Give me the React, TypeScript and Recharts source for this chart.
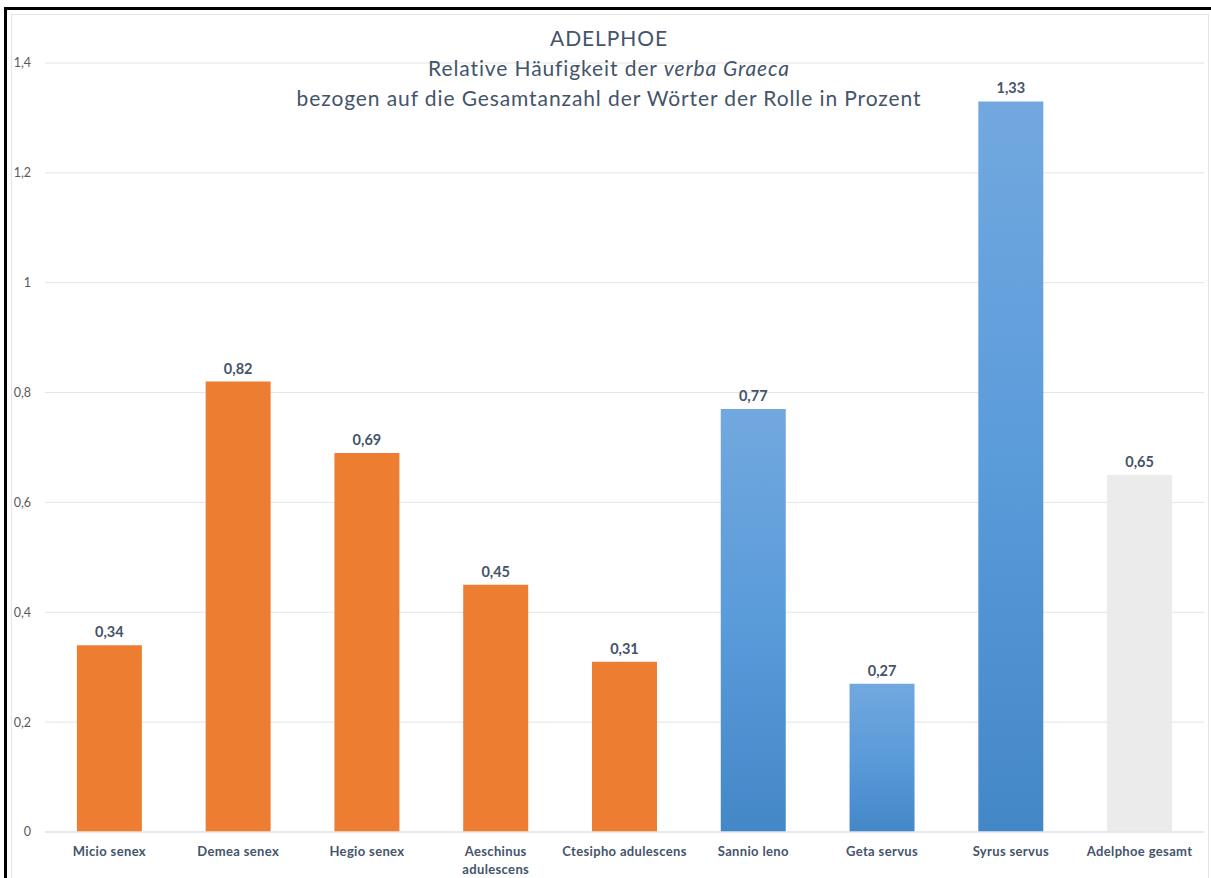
import React from 'react';
import { BarChart, Bar, XAxis, YAxis, CartesianGrid, Cell, LabelList } from 'recharts';

// Rollen (Kategorien) und Werte in Prozent
const categories = [
  'Micio senex',
  'Demea senex',
  'Hegio senex',
  'Aeschinus\nadulescens',
  'Ctesipho adulescens',
  'Sannio leno',
  'Geta servus',
  'Syrus servus',
  'Adelphoe gesamt',
];
const values = [0.34, 0.82, 0.69, 0.45, 0.31, 0.77, 0.27, 1.33, 0.65];
const groups = ['senex', 'senex', 'senex', 'senex', 'senex', 'servus', 'servus', 'servus', 'gesamt'];
const yTicks = [0, 0.2, 0.4, 0.6, 0.8, 1, 1.2, 1.4];

const FILLS: Record<string, string> = {
  senex: '#ED7D31',
  servus: 'url(#blueGrad)',
  gesamt: '#EBEBEB',
};

const FONT = 'Lato, "Open Sans", sans-serif';
const TEXT = '#44546A';

const data = categories.map((name, i) => ({ name, value: values[i], group: groups[i] }));

const comma = (v: number, digits?: number) =>
  (digits === undefined ? String(v) : v.toFixed(digits)).replace('.', ',');

const XTick = ({ x, y, payload }: any) => {
  const lines = String(payload.value).split('\n');
  return (
    <text
      x={x}
      y={y}
      textAnchor="middle"
      fill={TEXT}
      fontSize={13}
      fontWeight={700}
      fontFamily={FONT}
      letterSpacing={0.35}
    >
      {lines.map((l, i) => (
        <tspan key={i} x={x} dy={i === 0 ? '1.25em' : '1.35em'}>
          {l}
        </tspan>
      ))}
    </text>
  );
};

const ValueLabel = ({ x, y, width, value }: any) => (
  <text
    x={x + width / 2}
    y={y - 8}
    textAnchor="middle"
    fill={TEXT}
    fontSize={14.5}
    fontWeight={700}
    fontFamily={FONT}
  >
    {comma(value, 2)}
  </text>
);

export default function App() {
  return (
    <div
      style={{
        position: 'absolute',
        left: 0,
        top: 0,
        width: 1211,
        height: 878,
        overflow: 'hidden',
        background: '#fff',
      }}
    >
      <div
        style={{
          position: 'absolute',
          left: 4,
          top: 7,
          width: 1260,
          height: 920,
          border: '3px solid #000',
        }}
      />
      <div
        style={{
          position: 'absolute',
          left: 11,
          top: 14,
          width: 1196,
          height: 920,
          border: '1px solid #E4E6EA',
        }}
      />
      <div style={{ position: 'absolute', left: 0, top: 0 }}>
        <BarChart
          width={1211}
          height={878}
          data={data}
          margin={{ top: 63, right: 7, bottom: 6, left: 0 }}
          barCategoryGap="24.75%"
        >
          <defs>
            <linearGradient id="blueGrad" x1="0" y1="0" x2="0" y2="1">
              <stop offset="0%" stopColor="#72A8DF" />
              <stop offset="50%" stopColor="#5A9BDA" />
              <stop offset="100%" stopColor="#4487C7" />
            </linearGradient>
          </defs>
          <CartesianGrid vertical={false} stroke="#E4E4E4" strokeWidth={1} />
          <XAxis
            dataKey="name"
            interval={0}
            height={40}
            tickLine={false}
            axisLine={{ stroke: '#E4E6EA', strokeWidth: 1.5 }}
            tick={<XTick />}
          />
          <YAxis
            width={45}
            domain={[0, 1.4]}
            ticks={yTicks}
            axisLine={false}
            tickLine={false}
            tickMargin={8}
            tickFormatter={(v: number) => comma(v)}
            tick={{ fill: '#595959', fontSize: 12.5, fontFamily: FONT }}
          />
          <Bar dataKey="value" isAnimationActive={false}>
            {data.map((d, i) => (
              <Cell key={`cell-${i}`} fill={FILLS[d.group]} />
            ))}
            <LabelList dataKey="value" content={<ValueLabel />} />
          </Bar>
        </BarChart>
      </div>
      <div
        style={{
          position: 'absolute',
          left: 0,
          top: 23,
          width: 1218,
          textAlign: 'center',
          fontFamily: FONT,
          fontSize: 21,
          letterSpacing: 0.9,
          lineHeight: '30px',
          color: TEXT,
        }}
      >
        <div>ADELPHOE</div>
        <div>
          Relative Häufigkeit der <i>verba Graeca</i>
        </div>
        <div>bezogen auf die Gesamtanzahl der Wörter der Rolle in Prozent</div>
      </div>
    </div>
  );
}
